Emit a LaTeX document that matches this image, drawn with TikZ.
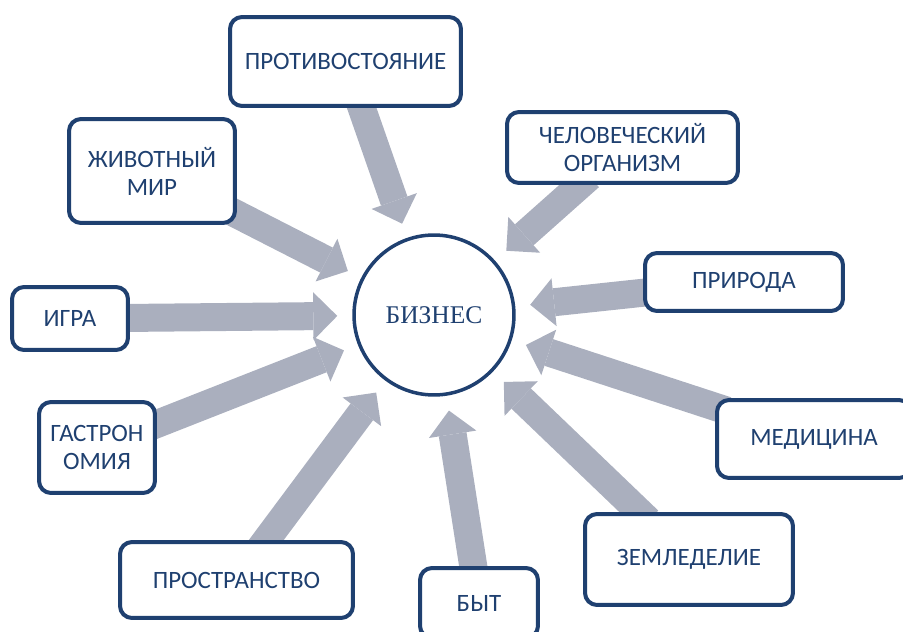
\documentclass[tikz,border=0pt]{standalone}
\usepackage{fontspec}
\newfontfamily\boxfont{Carlito}
\newfontfamily\hubfont{Liberation Serif}
\usetikzlibrary{arrows.meta,backgrounds}
\definecolor{hubBlue}{RGB}{31,64,112}
\definecolor{flowGray}{RGB}{170,175,190}
\tikzset{
  topic/.style={draw=hubBlue, line width=0.08cm, rounded corners=0.24cm,
    fill=white, text=hubBlue, align=center, inner sep=0pt,
    font=\boxfont\fontsize{14.2}{16}\selectfont},
  hub/.style={circle, draw=hubBlue, line width=0.07cm, fill=white,
    minimum size=3.2cm, inner sep=0pt, text=hubBlue,
    font=\hubfont\fontsize{14.5}{16}\selectfont},
  flow/.style={flowGray, line width=0.56cm,
    -{Triangle[width=0.96cm,length=0.48cm,line width=0pt]},
    shorten >=0.3cm, shorten <=-0.25cm}
}

\begin{document}
\begin{tikzpicture}[x=0.02cm, y=-0.02cm]
  \useasboundingbox (0,0) rectangle (903,632);
  % Center
  \node[hub] (biz) at (434,315) {БИЗНЕС};
  % Surrounding topics
  \node[topic, minimum width=4.62cm, minimum height=1.78cm] (prot)
    at (345.5,61.5) {ПРОТИВОСТОЯНИЕ};
  \node[topic, minimum width=4.62cm, minimum height=1.42cm] (chel)
    at (622.5,147.5) {ЧЕЛОВЕЧЕСКИЙ\\ОРГАНИЗМ};
  \node[topic, minimum width=3.32cm, minimum height=2.08cm] (zhiv)
    at (152,171) {ЖИВОТНЫЙ\\МИР};
  \node[topic, minimum width=3.96cm, minimum height=1.16cm] (prir)
    at (744,282) {ПРИРОДА};
  \node[topic, minimum width=2.32cm, minimum height=1.26cm] (igra)
    at (70,318.5) {ИГРА};
  \node[topic, minimum width=2.32cm, minimum height=1.82cm] (gast)
    at (97,447.5) {ГАСТРОН\\ОМИЯ};
  \node[topic, minimum width=3.88cm, minimum height=1.56cm] (med)
    at (814,439) {МЕДИЦИНА};
  \node[topic, minimum width=4.16cm, minimum height=1.82cm] (zeml)
    at (689,559.5) {ЗЕМЛЕДЕЛИЕ};
  \node[topic, minimum width=4.66cm, minimum height=1.52cm] (prost)
    at (236.5,580) {ПРОСТРАНСТВО};
  \node[topic, minimum width=2.36cm, minimum height=1.4cm] (byt)
    at (479,603) {БЫТ};
  % Arrows into the center
  \begin{scope}[on background layer]
    \foreach \src in {prot,chel,zhiv,prir,igra,gast,med,zeml,prost,byt}
      \draw[flow] (\src) -- (biz);
  \end{scope}
\end{tikzpicture}
\end{document}
